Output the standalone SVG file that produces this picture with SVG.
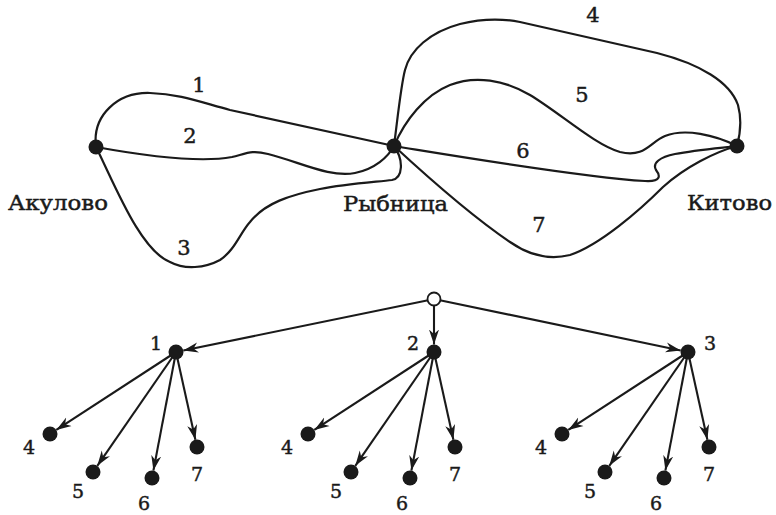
<svg xmlns="http://www.w3.org/2000/svg" width="776" height="515" viewBox="0 0 776 515">
<style>
.e{fill:none;stroke:#1a1a1a;stroke-width:2.2;stroke-linecap:round}
.a{stroke:#1a1a1a;stroke-width:2.1;fill:none}
.n{fill:#1a1a1a}
.o{fill:#fff;stroke:#1a1a1a;stroke-width:1.8}
.t{font-family:"DejaVu Serif","Liberation Serif",serif;fill:#1a1a1a;stroke:#1a1a1a;stroke-width:0.45}
.c{font-size:19.5px}
.d{font-size:21px;text-anchor:middle}
.s{font-size:19px;text-anchor:middle}
</style>
<defs>
<marker id="arr" markerWidth="17" markerHeight="11" refX="15" refY="5.5" orient="auto" markerUnits="userSpaceOnUse">
<path d="M0,0.5 L15,5.5 L0,10.5 L4.5,5.5 Z" fill="#1a1a1a"/>
</marker>
</defs>
<rect width="776" height="515" fill="#fff"/>
<g id="connectors">
<path class="e" d="M96,147 C92,115 118,92 150,93 C180,94 200,102 230,110 L394,146"/>
<path class="e" d="M96,147 C140,155 200,163 232,157 C248,153 252,150 268,154 C300,162 330,178 355,173 C375,169 388,157 394,146"/>
<path class="e" d="M96,147 C115,185 140,250 170,262 C185,270 205,268 220,260 C235,250 240,233 250,222 C265,203 290,195 320,189 C345,184 375,182 392,180 C403,178 404,160 394,146"/>
<path class="e" d="M394,146 C398,115 401,85 405,70 C410,50 430,32 460,24 C480,19 500,18 520,22 L657,53 C700,64 730,82 738,105 C742,120 740,135 737,146"/>
<path class="e" d="M394,146 C405,120 425,95 450,85 C475,75 505,80 530,95 C560,113 595,145 620,152 C645,158 650,142 665,136 C685,128 715,135 737,146"/>
<path class="e" d="M394,146 C450,155 580,177 645,181 C662,182 660,175 656,170 C652,163 660,157 675,154 C695,150 720,148 737,146"/>
<path class="e" d="M394,146 C420,170 470,215 510,242 C530,256 550,260 570,255 C600,245 640,210 663,187 C685,167 715,152 737,146"/>
<g class="t d">
<text x="199" y="92">1</text>
<text x="190" y="143">2</text>
<text x="184" y="255">3</text>
<text x="593" y="22">4</text>
<text x="582" y="102">5</text>
<text x="523" y="158">6</text>
<text x="539" y="232">7</text>
</g>
<line class="a" x1="428.1" y1="300.2" x2="183.3" y2="350.5" marker-end="url(#arr)"/>
<line class="a" x1="434" y1="305" x2="434" y2="344.5" marker-end="url(#arr)"/>
<line class="a" x1="439.9" y1="300.2" x2="680.7" y2="350.5" marker-end="url(#arr)"/>
<g id="arrows1">
<line class="a" x1="176" y1="352" x2="56.3" y2="429.9" marker-end="url(#arr)"/>
<line class="a" x1="176" y1="352" x2="97.3" y2="465.8" marker-end="url(#arr)"/>
<line class="a" x1="176" y1="352" x2="153.4" y2="470.6" marker-end="url(#arr)"/>
<line class="a" x1="176" y1="352" x2="195.4" y2="439.7" marker-end="url(#arr)"/>
</g>
<g id="arrows2" transform="translate(258,0)">
<line class="a" x1="176" y1="352" x2="56.3" y2="429.9" marker-end="url(#arr)"/>
<line class="a" x1="176" y1="352" x2="97.3" y2="465.8" marker-end="url(#arr)"/>
<line class="a" x1="176" y1="352" x2="153.4" y2="470.6" marker-end="url(#arr)"/>
<line class="a" x1="176" y1="352" x2="195.4" y2="439.7" marker-end="url(#arr)"/>
</g>
<g id="arrows3" transform="translate(512,0)">
<line class="a" x1="176" y1="352" x2="56.3" y2="429.9" marker-end="url(#arr)"/>
<line class="a" x1="176" y1="352" x2="97.3" y2="465.8" marker-end="url(#arr)"/>
<line class="a" x1="176" y1="352" x2="153.4" y2="470.6" marker-end="url(#arr)"/>
<line class="a" x1="176" y1="352" x2="195.4" y2="439.7" marker-end="url(#arr)"/>
</g>
</g>
<g id="akulovo"><circle class="n" cx="96" cy="147" r="7.5"/><text class="t c" x="8" y="210" textLength="100" lengthAdjust="spacingAndGlyphs">Акулово</text></g>
<g id="rybnitsa"><circle class="n" cx="394" cy="146" r="7.5"/><text class="t c" x="343" y="211" textLength="105" lengthAdjust="spacingAndGlyphs">Рыбница</text></g>
<g id="kitovo"><circle class="n" cx="737" cy="146" r="7.5"/><text class="t c" x="687" y="210" textLength="85" lengthAdjust="spacingAndGlyphs">Китово</text></g>
<g id="root"><circle class="o" cx="434" cy="299" r="6.5"/></g>
<g id="n1"><circle class="n" cx="176" cy="352" r="7.5"/><text class="t s" x="156" y="350">1</text></g>
<g id="n2"><circle class="n" cx="434" cy="352" r="7.5"/><text class="t s" x="413" y="350">2</text></g>
<g id="n3"><circle class="n" cx="688" cy="352" r="7.5"/><text class="t s" x="710" y="350">3</text></g>
<g id="n1-4"><circle class="n" cx="50" cy="434" r="7.5"/><text class="t s" x="29" y="454">4</text></g>
<g id="n1-5"><circle class="n" cx="93" cy="472" r="7.5"/><text class="t s" x="78" y="498">5</text></g>
<g id="n1-6"><circle class="n" cx="152" cy="478" r="7.5"/><text class="t s" x="144" y="510">6</text></g>
<g id="n1-7"><circle class="n" cx="197" cy="447" r="7.5"/><text class="t s" x="197" y="481">7</text></g>
<g id="n2-4"><circle class="n" cx="308" cy="434" r="7.5"/><text class="t s" x="287" y="454">4</text></g>
<g id="n2-5"><circle class="n" cx="351" cy="472" r="7.5"/><text class="t s" x="336" y="498">5</text></g>
<g id="n2-6"><circle class="n" cx="410" cy="478" r="7.5"/><text class="t s" x="402" y="510">6</text></g>
<g id="n2-7"><circle class="n" cx="455" cy="447" r="7.5"/><text class="t s" x="455" y="481">7</text></g>
<g id="n3-4"><circle class="n" cx="562" cy="434" r="7.5"/><text class="t s" x="541" y="454">4</text></g>
<g id="n3-5"><circle class="n" cx="605" cy="472" r="7.5"/><text class="t s" x="590" y="498">5</text></g>
<g id="n3-6"><circle class="n" cx="664" cy="478" r="7.5"/><text class="t s" x="656" y="510">6</text></g>
<g id="n3-7"><circle class="n" cx="709" cy="447" r="7.5"/><text class="t s" x="709" y="481">7</text></g>
</svg>
